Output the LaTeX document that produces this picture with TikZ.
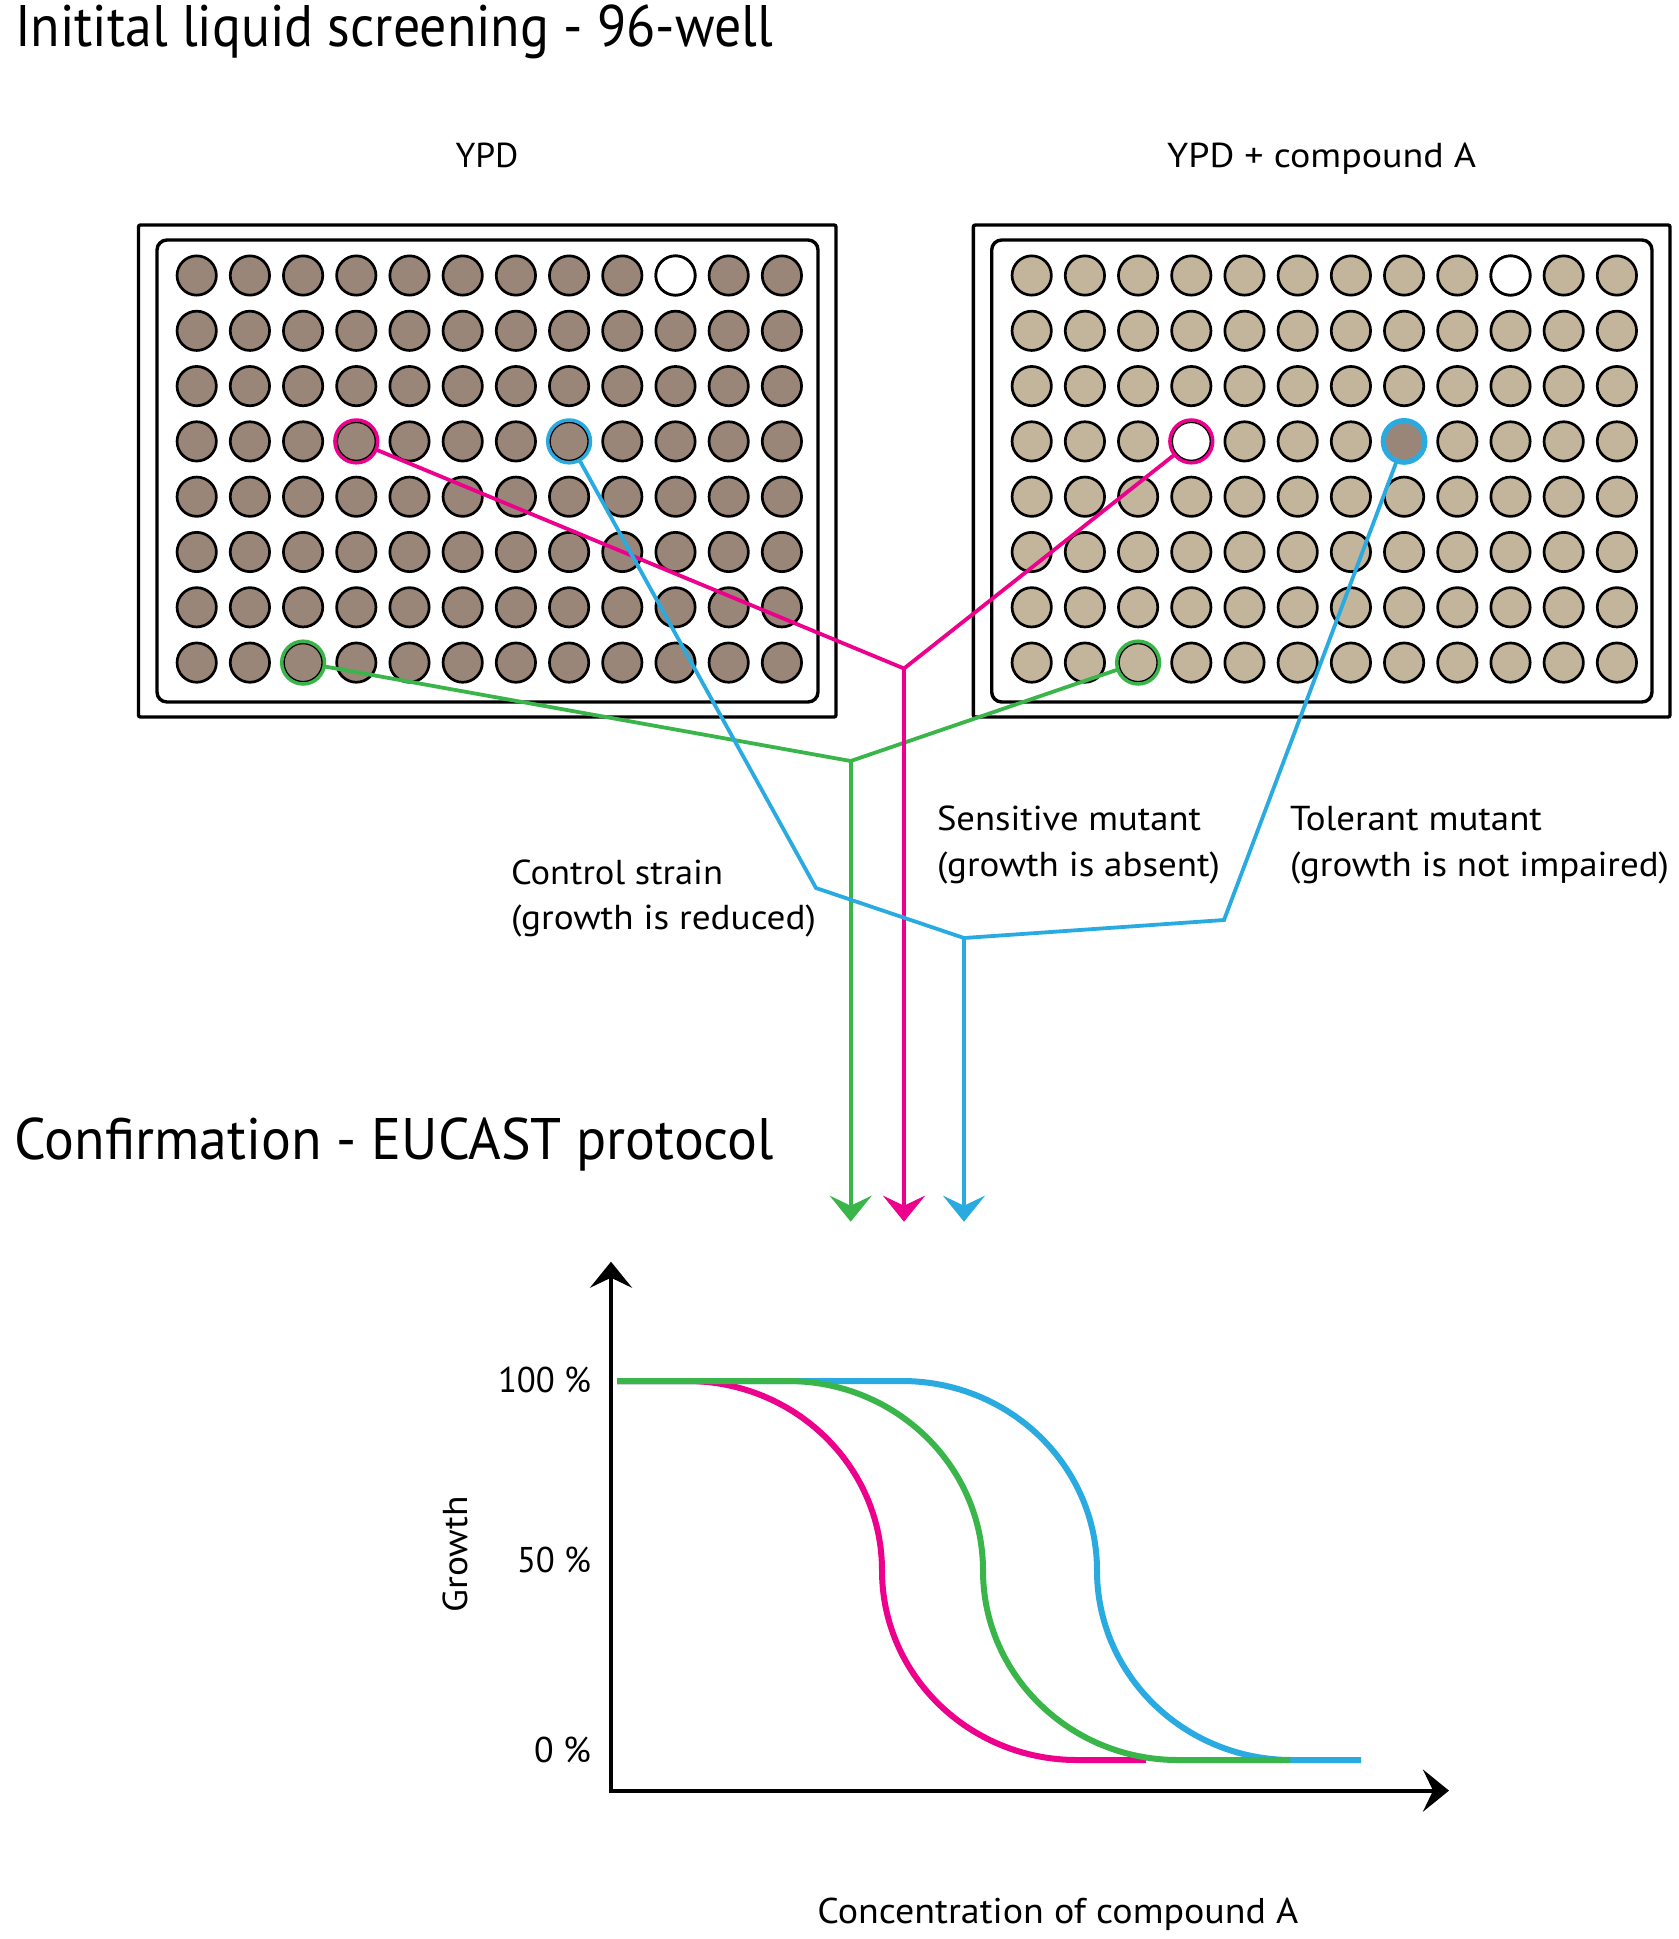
\documentclass[tikz,border=0pt]{standalone}
\usepackage{fontspec}
\setmainfont{PT Sans}
\usetikzlibrary{arrows.meta}
\definecolor{cmag}{HTML}{EC008C}
\definecolor{cgrn}{HTML}{39B54A}
\definecolor{cblu}{HTML}{29ABE2}
\definecolor{wellA}{HTML}{9A8678}
\definecolor{wellB}{HTML}{C2B59B}
\newcommand\fitw[2]{\resizebox{#1}{\height}{#2}}
\begin{document}
\begin{tikzpicture}[x=0.5pt,y=-0.5pt,
  well/.style={circle, draw=black, line width=1.35pt, minimum size=19.65pt, inner sep=0pt, outer sep=0pt},
  ring/.style={circle, draw=#1, line width=1.75pt, minimum size=21.4pt, inner sep=0pt, outer sep=0pt},
  plate/.style={draw=black, line width=1.7pt, inner sep=0pt, outer sep=0pt},
  conn/.style={draw=#1, line width=1.9pt},
  tip/.style={-{Stealth[length=13pt,width=21pt,inset=5pt]}},
  curve/.style={line width=3pt},
  lbl/.style={font=\fontsize{17.3}{20}\selectfont, inner sep=0pt, outer sep=0pt},
  ttl/.style={font=\fontsize{29.3}{34}\selectfont, inner sep=0pt, outer sep=0pt},
  num/.style={font=\fontsize{17.9}{21}\selectfont, inner sep=0pt, outer sep=0pt}
]
\useasboundingbox (0,0) rectangle (1678,1939);

% titles
\node[ttl, anchor=base west] (t1) at (15,46) {\fitw{379pt}{Initital liquid screening - 96-well}};
\node[ttl, anchor=base west] (t2) at (15,1159) {\fitw{379.5pt}{Confirmation - EUCAST protocol}};

% plate labels
\node[lbl, anchor=base] (ypd) at (487,167) {\fitw{31.5pt}{YPD}};
\node[lbl, anchor=base] (ypdA) at (1321.6,167) {\fitw{154.5pt}{YPD + compound A}};

% plates
\node[plate, rounded corners=1pt, minimum width=348.75pt, minimum height=246pt] (PLo) at (487.25,471) {};
\node[plate, rounded corners=5pt, minimum width=330.5pt, minimum height=231pt] (PLi) at (487.5,471) {};
\node[plate, rounded corners=1pt, minimum width=348.35pt, minimum height=246pt] (PRo) at (1321.65,471) {};
\node[plate, rounded corners=5pt, minimum width=330.15pt, minimum height=231pt] (PRi) at (1321.85,471) {};

% wells
\foreach \r in {0,...,7}{\foreach \c in {0,...,11}{
  \node[well, fill=wellA] (L-\r-\c) at ({196.7+53.2*\c},{275.5+55.3*\r}) {};
  \node[well, fill=wellB] (R-\r-\c) at ({1031.7+53.2*\c},{275.5+55.3*\r}) {};
}}
\node[well, fill=white] (LW) at (L-0-9) {};
\node[well, fill=white] (RW) at (R-0-9) {};
\node[well, fill=white] (RW2) at (R-3-3) {};

% highlighted wells
\node[ring=cmag] (Lm) at (L-3-3) {};
\node[ring=cblu] (Lb) at (L-3-7) {};
\node[ring=cgrn] (Lg) at (L-7-2) {};
\node[ring=cmag] (Rm) at (R-3-3) {};
\node[circle, draw=cblu, fill=wellA, line width=2.6pt, minimum size=20.8pt, inner sep=0pt, outer sep=0pt] (Rb) at (R-3-7) {};
\node[ring=cgrn] (Rg) at (R-7-2) {};

% connector points
\coordinate (jm) at (904,668.5);
\coordinate (jg) at (850.7,761);
\coordinate (bk1) at (816,888);
\coordinate (jb) at (964,938);
\coordinate (bk2) at (1224,920);
\coordinate (am) at (904,1221.7);
\coordinate (ag) at (850.7,1221.7);
\coordinate (ab) at (964,1221.7);

% connectors
\draw[conn=cgrn] (Lg) -- (jg) -- (Rg);
\draw[conn=cgrn, tip] (jg) -- (ag);
\draw[conn=cmag] (Lm) -- (jm) -- (Rm);
\draw[conn=cmag, tip] (jm) -- (am);
\draw[conn=cblu] (Lb) -- (bk1) -- (jb) -- (bk2) -- (Rb);
\draw[conn=cblu, tip] (jb) -- (ab);

% labels
\node[lbl, anchor=base west] (ctl1) at (511,884) {\fitw{106pt}{Control strain}};
\node[lbl, anchor=base west] (ctl2) at (511,929) {\fitw{152.5pt}{(growth is reduced)}};
\node[lbl, anchor=base west] (sen1) at (937,830.5) {\fitw{132pt}{Sensitive mutant}};
\node[lbl, anchor=base west] (sen2) at (937,876) {\fitw{141.5pt}{(growth is absent)}};
\node[lbl, anchor=base west] (tol1) at (1290,830.5) {\fitw{126pt}{Tolerant mutant}};
\node[lbl, anchor=base west] (tol2) at (1290,876) {\fitw{189.5pt}{(growth is not impaired)}};

% graph axes
\coordinate (yTop) at (611,1261.7);
\coordinate (org) at (611,1790.6);
\coordinate (xEnd) at (1449,1790.6);
\draw[line width=2pt, {Stealth[length=13pt,width=21pt,inset=5pt]}-{Stealth[length=13pt,width=21pt,inset=5pt]}] (yTop) -- (org) -- (xEnd);

% axis labels
\node[num, anchor=base east] (p100) at (591,1392) {\fitw{46.5pt}{100 \%}};
\node[num, anchor=base east] (p50) at (591,1572) {\fitw{37pt}{50 \%}};
\node[num, anchor=base east] (p0) at (591,1762) {\fitw{28.5pt}{0 \%}};
\node[lbl, rotate=90] (growth) at (455,1554.5) {\fitw{58pt}{Growth}};
\node[num, anchor=base west] (conc) at (817.4,1923) {\fitw{240.5pt}{Concentration of compound A}};

% curves
\draw[cblu, curve] (617,1381) -- (902,1381) .. controls (1009.6,1381) and (1097,1465.9) .. (1097,1570.5) .. controls (1097,1675.1) and (1184.4,1760) .. (1292,1760) -- (1361,1760);
\draw[cmag, curve] (617,1381) -- (687,1381) .. controls (794.6,1381) and (882,1465.9) .. (882,1570.5) .. controls (882,1675.1) and (969.4,1760) .. (1077,1760) -- (1146,1760);
\draw[cgrn, curve] (617,1381) -- (788,1381) .. controls (895.6,1381) and (983,1465.9) .. (983,1570.5) .. controls (983,1675.1) and (1070.4,1760) .. (1178,1760) -- (1290,1760);
\end{tikzpicture}
\end{document}
